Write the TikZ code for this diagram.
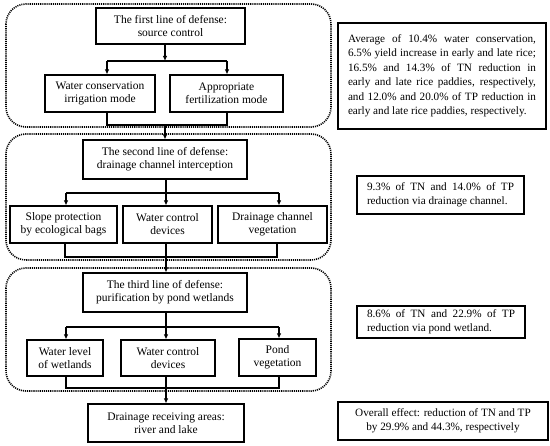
\documentclass[tikz,border=0pt]{standalone}
\usepackage{fontspec}
\setmainfont{Liberation Serif}
\usetikzlibrary{arrows.meta}
\begin{document}
\begin{tikzpicture}[x=1pt,y=-1pt,
  box/.style={draw, line width=1.1pt, align=center, inner sep=0pt, font=\fontsize{11.5}{13}\selectfont},
  grp/.style={line width=1.6pt, dash pattern=on 1.1pt off 1.0pt, rounded corners=20pt},
  con/.style={line width=1.1pt},
  arr/.style={con, -{Latex[length=5pt,width=4.5pt]}},
  note/.style={draw, line width=1.1pt, inner sep=0pt, font=\fontsize{11.2}{14.5}\selectfont}
]
\useasboundingbox (0,0) rectangle (550,446);

% groups
\draw[grp] (6,4) rectangle (331,127);
\draw[grp] (6,134) rectangle (331,260);
\draw[grp] (6,268) rectangle (331,391);

% line 1
\node[box, minimum width=149pt, minimum height=36pt] (b1) at (170.5,26) {The first line of defense:\\source control};
\node[box, minimum width=110pt, minimum height=37pt] (b11) at (100,93.5) {Water conservation\\irrigation mode};
\node[box, minimum width=113pt, minimum height=37pt] (b12) at (226.5,93.5) {Appropriate\\fertilization mode};

% line 2
\node[box, minimum width=164pt, minimum height=39pt] (b2) at (165,159.5) {The second line of defense:\\drainage channel interception};
\node[box, minimum width=107pt, minimum height=37pt] (b21) at (63.5,224.5) {Slope protection\\by ecological bags};
\node[box, minimum width=89pt, minimum height=37pt] (b22) at (167.5,224.5) {Water control\\devices};
\node[box, minimum width=109pt, minimum height=37pt] (b23) at (272.5,224.5) {Drainage channel\\vegetation};

% line 3
\node[box, minimum width=164pt, minimum height=39pt] (b3) at (165,292.5) {The third line of defense:\\purification by pond wetlands};
\node[box, minimum width=76pt, minimum height=36pt] (b31) at (65,358) {Water level\\of wetlands};
\node[box, minimum width=94pt, minimum height=36pt] (b32) at (168,358) {Water control\\devices};
\node[box, minimum width=77pt, minimum height=37pt] (b33) at (277.5,357.5) {Pond\\vegetation};

% receiving
\node[box, minimum width=156pt, minimum height=38pt] (b4) at (166,423) {Drainage receiving areas:\\river and lake};

% notes
\node[note, minimum width=208pt, minimum height=106pt, text width=188pt, align=justify] (nA) at (442,76)
 {Average of 10.4\% water conservation,\linebreak 6.5\% yield increase in early and late rice;\linebreak 16.5\% and 14.3\% of TN reduction in\linebreak early and late rice paddies, respectively,\linebreak and 12.0\% and 20.0\% of TP reduction in\linebreak early and late rice paddies, respectively.};
\node[note, minimum width=167pt, minimum height=38pt, text width=147pt, align=justify] (nB) at (440.5,195)
 {9.3\% of TN and 14.0\% of TP\linebreak reduction via drainage channel.};
\node[note, minimum width=168pt, minimum height=32pt, text width=148pt, align=justify] (nC) at (441,322)
 {8.6\% of TN and 22.9\% of TP\linebreak reduction via pond wetland.};
\node[note, minimum width=210pt, minimum height=38pt, align=center] (nD) at (443,421)
 {Overall effect: reduction of TN and TP\\by 29.9\% and 44.3\%, respectively};

% connectors group 1
\coordinate (j1) at (165,61);
\coordinate (l1) at (107,61);
\coordinate (r1) at (227,61);
\draw[arr] (b1.south -| j1) -- (j1);
\draw[con] (l1) -- (r1);
\draw[arr] (l1) -- (l1 |- b11.north);
\draw[arr] (r1) -- (r1 |- b12.north);
\coordinate (l1b) at (107,125);
\coordinate (r1b) at (227,125);
\coordinate (m1b) at (165,125);
\draw[con] (l1b |- b11.south) -- (l1b) -- (r1b) -- (r1b |- b12.south);
\draw[arr] (m1b) -- (m1b |- b2.north);

% connectors group 2
\coordinate (m2) at (166,193);
\coordinate (l2) at (66,193);
\coordinate (r2) at (279,193);
\draw[con] (l2) -- (r2);
\draw[arr] (l2) -- (l2 |- b21.north);
\draw[arr] (r2) -- (r2 |- b23.north);
\draw[arr] (m2 |- b2.south) -- (m2 |- b22.north);
\coordinate (l2b) at (65,257);
\coordinate (r2b) at (277,257);
\coordinate (m2b) at (166,257);
\draw[con] (l2b |- b21.south) -- (l2b) -- (r2b) -- (r2b |- b23.south);
\draw[arr] (m2b |- b22.south) -- (m2b |- b3.north);

% connectors group 3
\coordinate (m3) at (166,327);
\coordinate (l3) at (66,327);
\coordinate (r3) at (279,327);
\draw[con] (l3) -- (r3);
\draw[arr] (l3) -- (l3 |- b31.north);
\draw[arr] (r3) -- (r3 |- b33.north);
\draw[arr] (m3 |- b3.south) -- (m3 |- b32.north);
\coordinate (l3b) at (66,388);
\coordinate (r3b) at (279,388);
\coordinate (m3b) at (166,388);
\draw[con] (l3b |- b31.south) -- (l3b) -- (r3b) -- (r3b |- b33.south);
\draw[arr] (m3b |- b32.south) -- (m3b |- b4.north);
\end{tikzpicture}
\end{document}
